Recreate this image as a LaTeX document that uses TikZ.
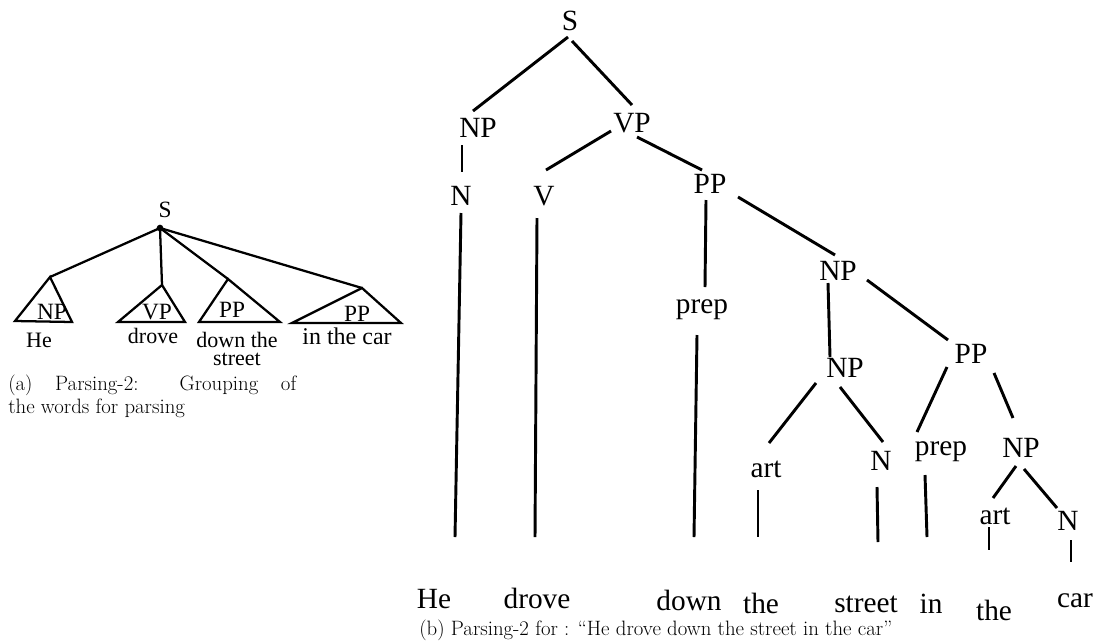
\documentclass[tikz,border=0pt]{standalone}
\usepackage{fontspec}
\newfontfamily\tms{Liberation Serif}
\newcommand\lnk[6]{\draw[ln] ([shift={(#2,#3)}]#1.base) -- ([shift={(#5,#6)}]#4.base);}
\begin{document}
\begin{tikzpicture}[x=0.75pt,y=-0.75pt,
  lab/.style={anchor=base,inner sep=0pt,font=\tms\fontsize{22}{24}\selectfont},
  sl/.style={anchor=base,inner sep=0pt,font=\tms\fontsize{17.5}{18}\selectfont},
  sw/.style={anchor=base,inner sep=0pt,font=\tms\fontsize{16.5}{13.5}\selectfont},
  ln/.style={line width=2.2pt},
  sln/.style={line width=1.7pt},
  captxt/.style={anchor=base west,inner sep=0pt,font=\fontsize{15.6}{17.25}\selectfont}]
\path[use as bounding box] (0,0) rectangle (1094,643);

% ---------------- left panel ----------------
\node[sl] (lS) at (165,217) {S};
\node[circle,fill,inner sep=0pt,minimum size=5pt] (sdot) at (160,228) {};
\coordinate (tNP) at (50,277);
\coordinate (tVP) at (162,285);
\coordinate (tPPa) at (228,279);
\coordinate (tPPb) at (362,288);
\draw[sln,line join=miter] (tNP) -- (15,321) -- (72,322) -- cycle;
\draw[sln,line join=miter] (tVP) -- (118,322) -- (185,322) -- cycle;
\draw[sln,line join=miter] (tPPa) -- (199,322) -- (280,322) -- cycle;
\draw[sln,line join=miter] (tPPb) -- (292,323) -- (401,323) -- cycle;
\draw[sln] (sdot.center) -- (tNP);
\draw[sln] (sdot.center) -- (tVP);
\draw[sln] (sdot.center) -- (tPPa);
\draw[sln] (sdot.center) -- (tPPb);
\node[sl] (lNP) at (52,319) {NP};
\node[sl] (lVP) at (157,319) {VP};
\node[sl] (lPPa) at (232,317) {PP};
\node[sl] (lPPb) at (357,321) {PP};
\node[sw] (lHe) at (39,347) {He};
\node[sw] (ldrove) at (153,343) {drove};
\node[sw,anchor=north,align=center] (ldown) at (237,332) {down the\\street};
\node[sw,font=\tms\fontsize{18}{18}\selectfont] (lcar) at (347,344) {in the car};
\node[captxt] (capa1) at (8,390) {\makebox[216pt][s]{(a) Parsing-2: Grouping of}};
\node[captxt] (capa2) at (8,413) {the words for parsing};

% ---------------- right tree ----------------
\node[lab] (S) at (570,30) {S};
\node[lab] (NPa) at (478,137) {NP};
\node[lab] (VP) at (632,132) {VP};
\node[lab] (Na) at (461,205) {N};
\node[lab] (V) at (544,205) {V};
\node[lab] (PPa) at (710,193) {PP};
\node[lab] (prepa) at (702,313) {prep};
\node[lab] (NPb) at (838,280) {NP};
\node[lab] (NPc) at (845,377) {NP};
\node[lab] (PPb) at (971,363) {PP};
\node[lab] (arta) at (766,477) {art};
\node[lab] (Nb) at (881,470) {N};
\node[lab] (prepb) at (941,455) {prep};
\node[lab] (NPd) at (1021,457) {NP};
\node[lab] (artb) at (995,524) {art};
\node[lab] (Nc) at (1068,530) {N};
\node[lab] (wHe) at (434,608) {He};
\node[lab] (wdrove) at (537,608) {drove};
\node[lab] (wdown) at (689,610) {down};
\node[lab] (wthea) at (761,613) {the};
\node[lab] (wstreet) at (866,612) {street};
\node[lab] (win) at (931,613) {in};
\node[lab] (wtheb) at (994,620) {the};
\node[lab] (wcar) at (1075,607) {car};

\lnk{S}{-2}{7}{NPa}{-5}{-26}
\lnk{S}{2}{11}{VP}{0}{-27}
\lnk{NPa}{-16}{8}{Na}{1}{-33}
\lnk{VP}{-21}{-1}{V}{2}{-35}
\lnk{VP}{5}{5}{PPa}{-8}{-23}
\lnk{PPa}{28}{4}{NPb}{-3}{-25}
\lnk{PPa}{-4}{7}{prepa}{3}{-26}
\lnk{Na}{0}{8}{wHe}{21}{-71}
\lnk{V}{-7}{13}{wdrove}{-2}{-71}
\lnk{prepa}{-5}{22}{wdown}{5}{-73}
\lnk{NPb}{-10}{3}{NPc}{-15}{-20}
\lnk{NPb}{29}{0}{PPb}{-23}{-23}
\lnk{NPc}{-29}{6}{arta}{3}{-34}
\lnk{NPc}{-5}{10}{Nb}{2}{-28}
\lnk{PPb}{-24}{4}{prepb}{-24}{-23}
\lnk{PPb}{23}{10}{NPd}{-8}{-39}
\lnk{arta}{-8}{13}{wthea}{-3}{-76}
\lnk{Nb}{-4}{17}{wstreet}{12}{-70}
\lnk{prepb}{-16}{20}{win}{-4}{-76}
\lnk{NPd}{-5}{9}{artb}{-2}{-26}
\lnk{NPd}{3}{12}{Nc}{-11}{-22}
\lnk{artb}{-6}{3}{wtheb}{-5}{-70}
\lnk{Nc}{3}{10}{wcar}{-4}{-45}

\node[captxt] (capb) at (419,635) {(b) Parsing-2 for : ``He drove down the street in the car''};
\end{tikzpicture}
\end{document}
